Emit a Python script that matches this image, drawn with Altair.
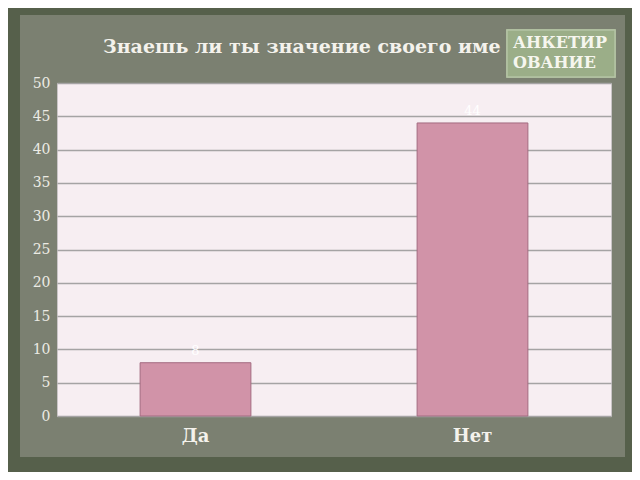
import altair as alt
import pandas as pd

categories = ["Да", "Нет"]
values = [8, 44]
title_text = "Знаешь ли ты значение своего име"
badge_lines = ["АНКЕТИР", "ОВАНИЕ"]

df = pd.DataFrame({"cat": categories, "val": values})

W, H = 554, 333
FONT = "DejaVu Serif"
OUTER = "#56604b"

x_enc = alt.X("cat:N", sort=categories, title=None,
              scale=alt.Scale(paddingInner=0.6, paddingOuter=0.3),
              axis=alt.Axis(labelAngle=0, labelFont=FONT, labelFontSize=18,
                            labelFontWeight="bold", labelColor="#f4f2ec",
                            labelPadding=11, domain=False, ticks=False))
y_enc = alt.Y("val:Q", title=None,
              scale=alt.Scale(domain=[0, 50]),
              axis=alt.Axis(values=list(range(0, 51, 5)), labelFont=FONT,
                            labelFontSize=14, labelColor="#ecebe4",
                            labelOverlap=False, labelPadding=7, domain=False,
                            ticks=False, gridColor="#a5a3a4", gridWidth=1.5))

base = alt.Chart(df)

# dark outer frame strips (decoration)
frame_left = base.mark_rect(color=OUTER).encode(
    x=alt.value(-49), x2=alt.value(-37), y=alt.value(-75), y2=alt.value(389))
frame_right = base.mark_rect(color=OUTER).encode(
    x=alt.value(568), x2=alt.value(575), y=alt.value(-75), y2=alt.value(389))
frame_top = base.mark_rect(color=OUTER).encode(
    x=alt.value(-49), x2=alt.value(575), y=alt.value(-75), y2=alt.value(-68))
frame_bottom = base.mark_rect(color=OUTER).encode(
    x=alt.value(-49), x2=alt.value(575), y=alt.value(374), y2=alt.value(389))

bars = base.mark_bar(color="#d193a8", stroke="#a36b80", strokeWidth=1).encode(
    x=x_enc, y=y_enc
)
labels = base.mark_text(color="#ffffff", font=FONT, fontSize=13, dy=-12).encode(
    x=x_enc, y=y_enc, text="val:Q"
)
title_df = pd.DataFrame({"t": [title_text]})
title = alt.Chart(title_df).mark_text(
    font=FONT, fontSize=19, fontWeight="bold", color="#f4f2ec", align="left",
    baseline="alphabetic"
).encode(x=alt.value(46), y=alt.value(-30), text="t:N")
badge = base.mark_rect(color="#9bae88", stroke="#b4c3a4", strokeWidth=1.5).encode(
    x=alt.value(450), x2=alt.value(558), y=alt.value(-53), y2=alt.value(-6)
)
badge_df = pd.DataFrame({"t": [badge_lines]})
badge_txt = alt.Chart(badge_df).mark_text(
    font=FONT, fontSize=16, fontWeight="bold", color="#f6f6ee", align="left",
    baseline="alphabetic", lineHeight=20
).encode(x=alt.value(456), y=alt.value(-35), text="t")

chart = alt.layer(frame_left, frame_right, frame_top, frame_bottom,
                  bars, labels, title, badge, badge_txt).properties(
    width=W, height=H, background="#7b8071",
    padding={"left": 49, "top": 75, "right": 21, "bottom": 56},
    autosize=alt.AutoSizeParams(type="none")
).configure_view(stroke="#c9c4c6", strokeWidth=1, fill="#f7eef2")

chart.save("out.html", embed_options={"renderer": "svg", "actions": False})
